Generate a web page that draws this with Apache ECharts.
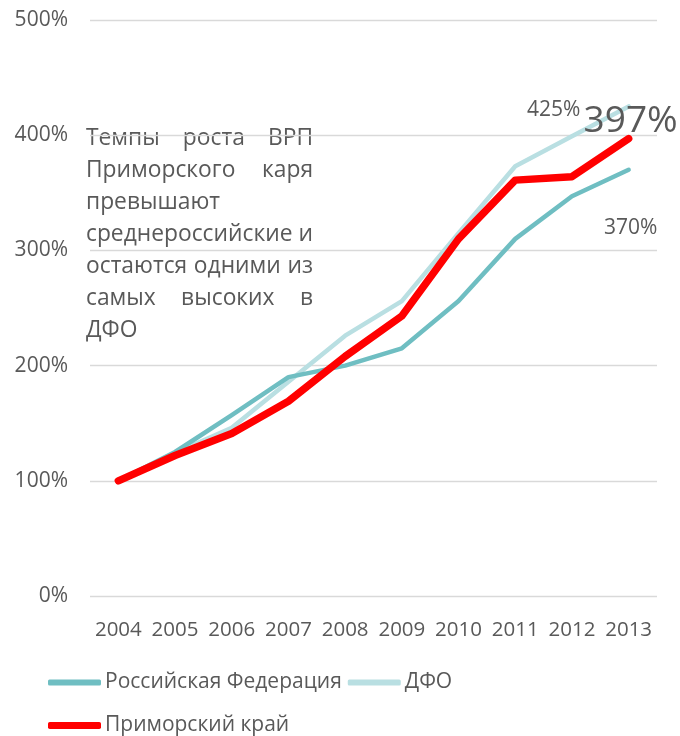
<!DOCTYPE html>
<html>
<head>
<meta charset="utf-8">
<script src="https://cdn.jsdelivr.net/npm/echarts@6/dist/echarts.min.js"></script>
<style>html,body{margin:0;padding:0;background:#fff}#c{width:680px;height:736px}</style>
</head>
<body>
<div id="c"></div>
<script>
const years = ['2004','2005','2006','2007','2008','2009','2010','2011','2012','2013'];
const russia = [100, 125, 157, 190, 200, 215, 256, 310, 347, 370];
const dfo = [100, 124, 146, 186, 226, 256, 315, 373, 399, 425];
const primorye = [100, 122, 141, 169, 208, 243, 310, 361, 364, 397];
const seriesNames = ['Российская Федерация', 'ДФО', 'Приморский край'];
const endLabels = ['370%', '425%', '397%'];
const yTicks = [0, 100, 200, 300, 400, 500];
const noteLines = [
  ['Темпы', 'роста', 'ВРП'],
  ['Приморского', 'каря'],
  ['превышают'],
  ['среднероссийские', 'и'],
  ['остаются', 'одними', 'из'],
  ['самых', 'высоких', 'в'],
  ['ДФО']
];

const FONT = '"Open Sans", sans-serif';
const TXT = '#595959';
const NOTE_SIZE = 22.8;
const AX = 21;
const chart = echarts.init(document.getElementById('c'), null, {renderer: 'canvas'});

function withEndLabel(values, text, offset, size) {
  return values.map((v, i) => i === values.length - 1 ? {
    value: v,
    label: {show: true, formatter: text, position: 'inside', offset: offset,
      fontSize: size, color: TXT, fontFamily: FONT}
  } : v);
}

const mctx = document.createElement('canvas').getContext('2d');
mctx.font = NOTE_SIZE + 'px "Open Sans"';
const noteX0 = 86, noteX1 = 313, noteY0 = 139, noteLH = 32;
const noteEls = [{
  type: 'rect', shape: {x: 80, y: 120, width: 240, height: 232},
  style: {fill: 'rgba(255,255,255,0.92)'}
}];
noteLines.forEach((words, li) => {
  const y = noteY0 + li * noteLH;
  const justify = words.length > 1;
  const widths = words.map(w => mctx.measureText(w).width);
  const total = widths.reduce((a, b) => a + b, 0);
  const gap = justify ? Math.max(5, (noteX1 - noteX0 - total) / (words.length - 1)) : 0;
  let x = noteX0;
  words.forEach((w, wi) => {
    noteEls.push({type: 'text', x: x, y: y, style: {text: w, fontSize: NOTE_SIZE, fontFamily: FONT, fill: TXT, verticalAlign: 'middle', align: 'left'}});
    x += widths[wi] + gap;
  });
});

chart.setOption({
  animation: false,
  grid: {left: 90, right: 23, top: 20, bottom: 140, containLabel: false},
  xAxis: {
    type: 'category', data: years, boundaryGap: true,
    axisLine: {show: false}, axisTick: {show: false},
    axisLabel: {color: TXT, fontSize: 20.5, fontFamily: FONT, margin: 24, interval: 0, hideOverlap: false}
  },
  yAxis: {
    type: 'value', min: 0, max: 500, interval: 100,
    axisLabel: {color: TXT, fontSize: AX, fontFamily: FONT, margin: 22,
      formatter: v => yTicks.includes(v) ? v + '%' : ''},
    splitLine: {lineStyle: {color: '#d9d9d9', width: 1.3}},
    axisLine: {show: false}, axisTick: {show: false}
  },
  legend: [{
    data: [seriesNames[0], seriesNames[1]], left: 48, top: 672, padding: 0,
    itemWidth: 53, itemHeight: 6, itemGap: 6, icon: 'roundRect',
    textStyle: {color: TXT, fontSize: AX, fontFamily: FONT, padding: [0, 0, 0, -1]}
  }, {
    data: [seriesNames[2]], left: 48, top: 715, padding: 0,
    itemWidth: 53, itemHeight: 7, itemGap: 6, icon: 'roundRect',
    textStyle: {color: TXT, fontSize: AX, fontFamily: FONT, padding: [0, 0, 0, -1]}
  }],
  graphic: noteEls,
  series: [{
    name: seriesNames[0], type: 'line', data: withEndLabel(russia, endLabels[0], [2, 58], AX),
    showSymbol: true, symbol: 'circle', symbolSize: 0, itemStyle: {color: '#6fbec2'},
    lineStyle: {color: '#6fbec2', width: 4.5, cap: 'round', join: 'round'}, z: 2
  }, {
    name: seriesNames[1], type: 'line', data: withEndLabel(dfo, endLabels[1], [-75, 4], AX),
    showSymbol: true, symbol: 'circle', symbolSize: 0, itemStyle: {color: '#b9dfe2'},
    lineStyle: {color: '#b9dfe2', width: 4.5, cap: 'round', join: 'round'}, z: 1
  }, {
    name: seriesNames[2], type: 'line', data: withEndLabel(primorye, endLabels[2], [2, -17], 37),
    showSymbol: true, symbol: 'circle', symbolSize: 0, itemStyle: {color: '#ff0000'},
    lineStyle: {color: '#ff0000', width: 7.5, cap: 'round', join: 'round'}, z: 3
  }]
});
</script>
</body>
</html>
